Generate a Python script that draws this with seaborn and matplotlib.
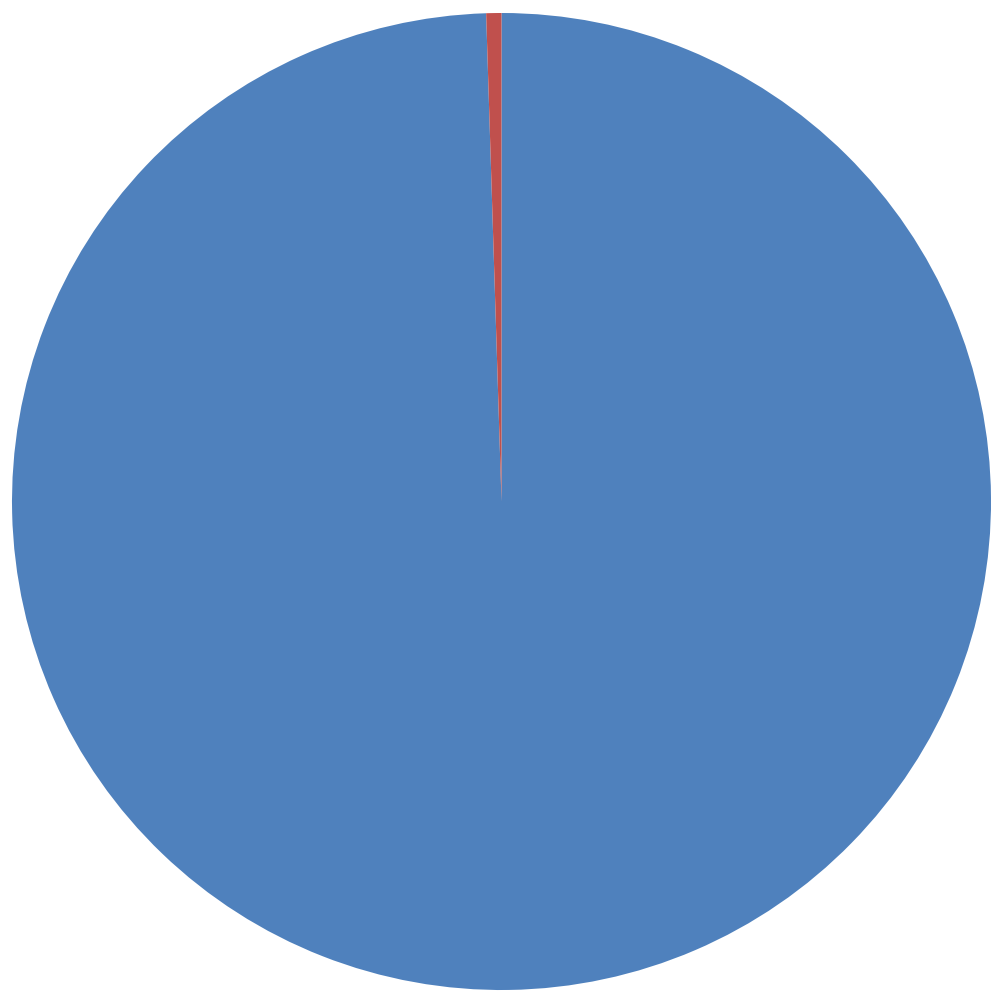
import matplotlib
matplotlib.use("Agg")
import matplotlib.pyplot as plt
import seaborn as sns

# slice shares
labels = ["A", "B"]
values = [99.5, 0.5]
colors = ["#4F81BD", "#C0504D"]

sns.set_theme(style="white")

fig = plt.figure(figsize=(10, 10), dpi=100)
ax = fig.add_axes([0.012, 0.01, 0.979, 0.977])
ax.pie(values, colors=colors, startangle=90, counterclock=False,
       wedgeprops={"linewidth": 0})
ax.set_xlim(-1, 1)
ax.set_ylim(-1, 1)
ax.set_aspect("auto")
ax.axis("off")

fig.savefig("out.png", dpi=100, facecolor="white")
